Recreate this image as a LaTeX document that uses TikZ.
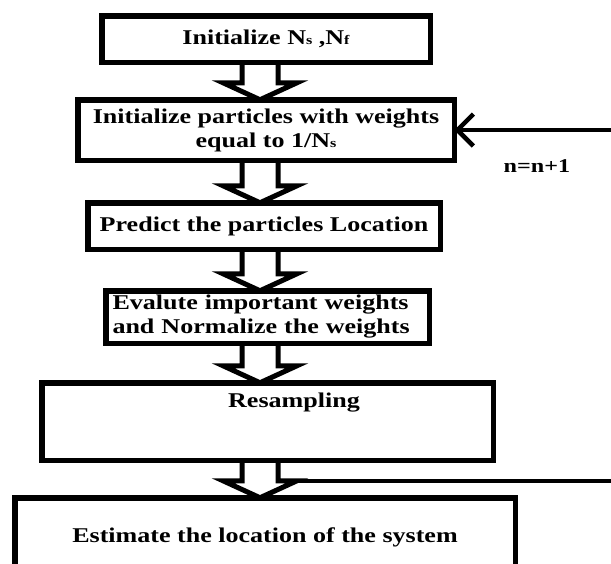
\documentclass[tikz,border=0pt]{standalone}
\usepackage{fontspec}
\setmainfont{Liberation Serif}[FakeStretch=1.24]
\usetikzlibrary{calc,arrows.meta}
\newcommand\subs[1]{{\fontsize{13}{13}\selectfont #1}}
\newcommand\blockarr[2]{%
  \draw[blk] let \p1=(#1.south -| ax), \p2=(#2.north -| ax) in
    (\x1-18pt,\y1) -- (\x1-18pt,\y2+17pt) -- (\x1-37pt,\y2+17pt) -- (\x2,\y2)
    -- (\x1+37pt,\y2+17pt) -- (\x1+18pt,\y2+17pt) -- (\x1+18pt,\y1);}
\tikzset{
  box/.style={draw, line width=5.5pt, rectangle, inner sep=0pt, outer sep=0pt,
    font=\fontsize{21}{24}\selectfont\bfseries, align=center},
  blk/.style={draw, line width=5pt, line join=miter},
  fbline/.style={draw, line width=4.5pt, -{Straight Barb[length=16pt,width=32pt]}},
  lbl/.style={font=\fontsize{19.5}{21}\selectfont\bfseries, inner sep=0pt}
}
\begin{document}
\begin{tikzpicture}[x=1pt,y=-1pt]
\clip (0,0) rectangle (611,563);
\fill[white] (0,0) rectangle (611,563);
\coordinate (ax) at (260,0);
\coordinate (rx) at (625,0);
\node[box, minimum width=328.5pt, minimum height=46.5pt] (b1) at (266,39)
  {Initialize N\subs{s} ,N\subs{f}};
\node[box, minimum width=376.5pt, minimum height=60.5pt] (b2) at (266,130)
  {Initialize particles with weights\\equal to 1/N\subs{s}};
\node[box, minimum width=352.5pt, minimum height=46.5pt] (b3) at (264,226)
  {Predict the particles Location};
\node[box, minimum width=323.5pt, minimum height=52.5pt, text width=310pt, align=left] (b4) at (267.5,317)
  {\raisebox{-3pt}{}Evalute important weights\\and Normalize the weights};
\node[box, minimum width=451.5pt, minimum height=77.5pt] (b5) at (267.5,421.5) {};
\node[font=\fontsize{21}{24}\selectfont\bfseries, inner sep=0pt] (b5t) at (294,403) {Resampling};
\node[box, minimum width=500.5pt, minimum height=79.5pt] (b6) at (265,537.5)
  {Estimate the location of the system};
\node[lbl] (n1) at (537,166) {n=n+1};
\blockarr{b1}{b2}
\blockarr{b2}{b3}
\blockarr{b3}{b4}
\blockarr{b4}{b5}
\blockarr{b5}{b6}
\coordinate (fb) at ($(b6.north -| ax)+(37pt,17pt)$);
\draw[fbline] (fb) -- (fb -| rx) |- (b2.east);
\end{tikzpicture}
\end{document}
